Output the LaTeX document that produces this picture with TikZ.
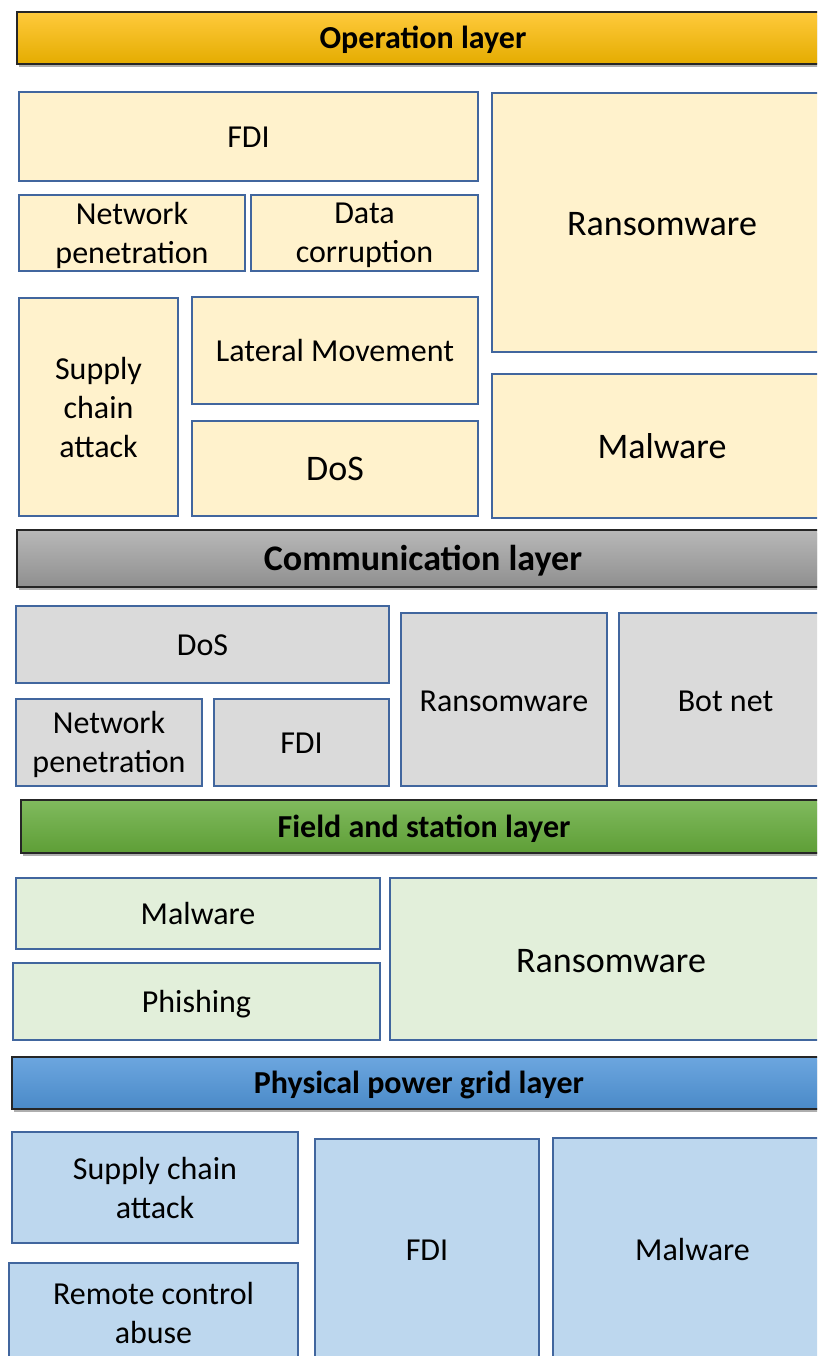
\documentclass[tikz,border=0pt]{standalone}
\usepackage{fontspec}
\setmainfont{Carlito}
\usetikzlibrary{shadows}

\definecolor{edgeblue}{HTML}{41669E}
\definecolor{opfill}{HTML}{FFF2CC}
\definecolor{comfill}{HTML}{DADADA}
\definecolor{fieldfill}{HTML}{E2EFDA}
\definecolor{physfill}{HTML}{BDD7EE}

% header gradients
\definecolor{opTop}{HTML}{FFCA3C}
\definecolor{opMid}{HTML}{FFC000}
\definecolor{opBot}{HTML}{E4AC00}
\definecolor{comTop}{HTML}{B8B8B8}
\definecolor{comMid}{HTML}{A6A6A6}
\definecolor{comBot}{HTML}{8F8F8F}
\definecolor{fieldTop}{HTML}{80BA5E}
\definecolor{fieldMid}{HTML}{70AD47}
\definecolor{fieldBot}{HTML}{5E9E36}
\definecolor{physTop}{HTML}{6CA6DF}
\definecolor{physMid}{HTML}{5B9BD5}
\definecolor{physBot}{HTML}{4A8AC8}

\tikzset{
  cell/.style={draw=edgeblue, line width=2pt, rectangle, anchor=north west,
    inner sep=0pt, outer sep=0pt, align=center, text=black,
    font=\fontsize{32}{39}\selectfont},
  bigtext/.style={font=\fontsize{36}{43}\selectfont},
  opcell/.style={cell, fill=opfill},
  comcell/.style={cell, fill=comfill},
  fieldcell/.style={cell, fill=fieldfill},
  physcell/.style={cell, fill=physfill},
  layerbar/.style={draw=black!85, line width=1.5pt, rectangle, anchor=north west,
    inner sep=0pt, outer sep=0pt, text depth=1.5pt,
    font=\bfseries\fontsize{32}{38}\selectfont,
    drop shadow={shadow xshift=2pt, shadow yshift=-3pt, opacity=0.45, fill=black!70}},
  layershade/.style n args={3}{top color=#1, middle color=#2, bottom color=#3},
}

\begin{document}
\begin{tikzpicture}[x=1pt, y=-1pt]
\useasboundingbox (0,0) rectangle (817,1356);
\clip (0,0) rectangle (817,1356);

% ---------- Operation layer ----------
\node[layerbar, layershade={opTop}{opMid}{opBot},
      minimum width=812pt, minimum height=52pt] (oplayer) at (17,12) {Operation layer};

\node[opcell, minimum width=459pt, minimum height=89pt, text height=23pt] (opfdi) at (19,92) {FDI};
\node[opcell, minimum width=226pt, minimum height=76pt, text depth=0.5pt] (opnet) at (19,195) {Network\\penetration};
\node[opcell, minimum width=227pt, minimum height=76pt, text depth=0.5pt] (opdata) at (251,195) {Data\\corruption};
\node[opcell, bigtext, minimum width=340pt, minimum height=259pt, text height=27pt] (opransom) at (492,93) {Ransomware};
\node[opcell, minimum width=159pt, minimum height=218pt, text depth=-4pt] (opsupply) at (19,298) {Supply\\chain\\attack};
\node[opcell, minimum width=286pt, minimum height=107pt] (oplateral) at (192,297) {Lateral Movement};
\node[opcell, bigtext, minimum width=286pt, minimum height=95pt] (opdos) at (192,421) {DoS};
\node[opcell, bigtext, minimum width=340pt, minimum height=144pt] (opmal) at (492,374) {Malware};

% ---------- Communication layer ----------
\node[layerbar, layershade={comTop}{comMid}{comBot},
      font=\bfseries\fontsize{36}{42}\selectfont, text depth=2pt,
      minimum width=812pt, minimum height=57pt] (comlayer) at (17,530) {Communication layer};

\node[comcell, minimum width=373pt, minimum height=77pt, text height=22.5pt] (comdos) at (16,606) {DoS};
\node[comcell, minimum width=186pt, minimum height=87pt, text depth=0.5pt] (comnet) at (16,699) {Network\\penetration};
\node[comcell, minimum width=175pt, minimum height=87pt, text height=22.5pt] (comfdi) at (214,699) {FDI};
\node[comcell, minimum width=206pt, minimum height=173pt, text height=24.5pt] (comransom) at (401,613) {Ransomware};
\node[comcell, minimum width=213pt, minimum height=173pt, text height=24.5pt] (combot) at (619,613) {Bot net};

% ---------- Field and station layer ----------
\node[layerbar, layershade={fieldTop}{fieldMid}{fieldBot},
      minimum width=806pt, minimum height=53pt] (fieldlayer) at (21,800) {Field and station layer};

\node[fieldcell, minimum width=364pt, minimum height=71pt] (fieldmal) at (16,878) {Malware};
\node[fieldcell, minimum width=367pt, minimum height=77pt, text depth=0.5pt] (fieldphish) at (13,963) {Phishing};
\node[fieldcell, bigtext, minimum width=442pt, minimum height=162pt, text height=27pt] (fieldransom) at (390,878) {Ransomware};

% ---------- Physical power grid layer ----------
\node[layerbar, layershade={physTop}{physMid}{physBot},
      minimum width=814pt, minimum height=52pt] (physlayer) at (12,1057) {Physical power grid layer};

\node[physcell, minimum width=286pt, minimum height=111pt] (physsupply) at (12,1132) {Supply chain\\attack};
\node[physcell, minimum width=289pt, minimum height=100pt] (physremote) at (9,1263) {Remote control\\abuse};
\node[physcell, minimum width=224pt, minimum height=222pt] (physfdi) at (315,1139) {FDI};
\node[physcell, minimum width=279pt, minimum height=222pt] (physmal) at (553,1138) {Malware};

\end{tikzpicture}
\end{document}
